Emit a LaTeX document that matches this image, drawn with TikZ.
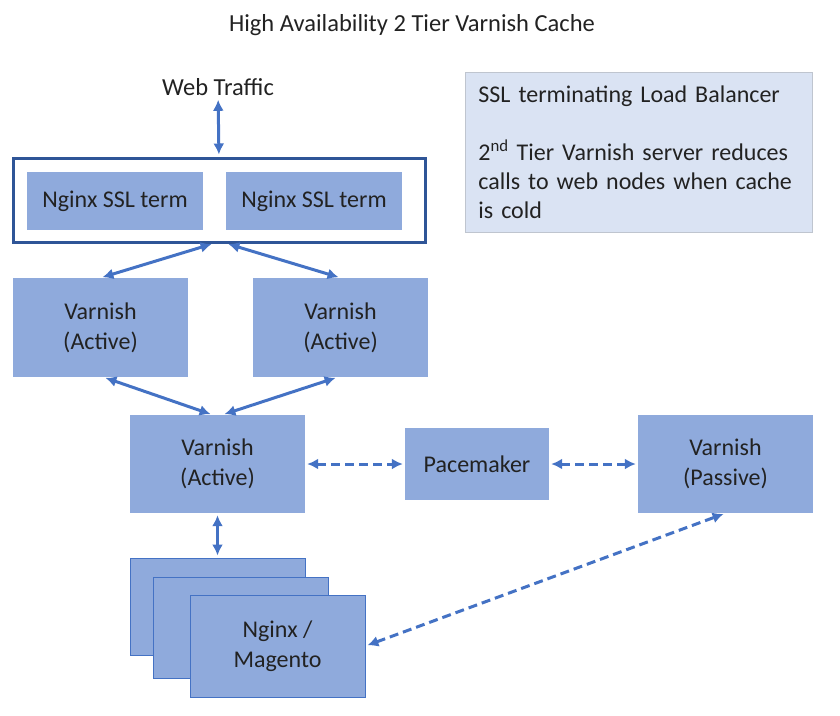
\documentclass[tikz,border=0pt]{standalone}
\usepackage{fontspec}
\setmainfont{Carlito}
\usetikzlibrary{arrows.meta}

\definecolor{boxblue}{HTML}{8FAADC}
\definecolor{linkblue}{HTML}{4472C4}
\definecolor{frameblue}{HTML}{2F5597}
\definecolor{notefill}{HTML}{DAE3F3}
\definecolor{notedraw}{HTML}{BFC5CF}
\definecolor{inktext}{HTML}{222222}

\tikzset{
  box/.style={fill=boxblue, inner sep=0pt, align=center, text=inktext,
    font=\fontsize{24}{30}\selectfont},
  stackbox/.style={box, draw=linkblue, line width=1pt,
    minimum width=175pt, minimum height=100pt},
  link/.style={draw=linkblue, line width=3pt, shorten <=2pt, shorten >=2pt,
    {Latex[length=11pt,width=11pt]}-{Latex[length=11pt,width=11pt]}},
  dashlink/.style={link, dash pattern=on 9pt off 5pt},
}

\begin{document}
\begin{tikzpicture}[x=1pt, y=-1pt]
  \useasboundingbox (0,0) rectangle (840,715);

  % Title and traffic
  \node[text=inktext, font=\fontsize{24.5}{29}\selectfont] (title) at (412,25) {High Availability 2 Tier Varnish Cache};
  \node[text=inktext, font=\fontsize{24.5}{29}\selectfont, inner sep=2pt] (web) at (218,87) {Web Traffic};

  % Load balancer
  \node[draw=frameblue, line width=3pt, minimum width=412pt, minimum height=84pt] (lb) at (219.5,200) {};
  \node[box, minimum width=176pt, minimum height=58pt] (ssla) at (115,201) {Nginx SSL term};
  \node[box, minimum width=176pt, minimum height=58pt] (sslb) at (314,201) {Nginx SSL term};

  % Note
  \node[fill=notefill, draw=notedraw, line width=0.8pt, anchor=north west,
    minimum height=160pt, text width=321pt, inner xsep=13pt, align=left,
    text=inktext, font=\fontsize{24}{29}\selectfont] (note) at (465,72)
    {SSL terminating Load Balancer\\[29pt]
     2\textsuperscript{nd} Tier Varnish server reduces\\
     calls to web nodes when cache\\
     is cold};

  % First tier
  \node[box, minimum width=175pt, minimum height=99pt] (vl) at (100.5,327.5) {Varnish\\(Active)};
  \node[box, minimum width=175pt, minimum height=99pt] (vr) at (340.5,327.5) {Varnish\\(Active)};

  % Second tier
  \node[box, minimum width=175pt, minimum height=98pt] (va) at (217.5,464) {Varnish\\(Active)};
  \node[box, minimum width=144pt, minimum height=72pt] (pm) at (477,464) {Pacemaker};
  \node[box, minimum width=175pt, minimum height=98pt] (vp) at (725.5,464) {Varnish\\(Passive)};

  % Web nodes
  \node[stackbox, minimum height=97pt] (ngA) at (217.5,606.5) {};
  \node[stackbox, minimum height=101pt] (ngB) at (240.5,627.5) {};
  \node[stackbox, minimum height=102pt] (ngC) at (277.5,646) {Nginx /\\Magento};

  % Connectors
  \draw[link] (web) -- (lb);
  \draw[link] ([xshift=-6pt]lb.south) -- (vl.north);
  \draw[link] ([xshift=7pt]lb.south) -- (vr.north);
  \draw[link] ([xshift=3pt]vl.south) -- ([xshift=-5pt]va.north);
  \draw[link] ([xshift=-3pt]vr.south) -- ([xshift=5pt]va.north);
  \draw[dashlink] (va.east) -- (pm.west);
  \draw[dashlink] (pm.east) -- (vp.west);
  \draw[link] (va.south) -- (ngA.north);
  \draw[dashlink] (ngC.east) -- (vp.south);
\end{tikzpicture}
\end{document}
